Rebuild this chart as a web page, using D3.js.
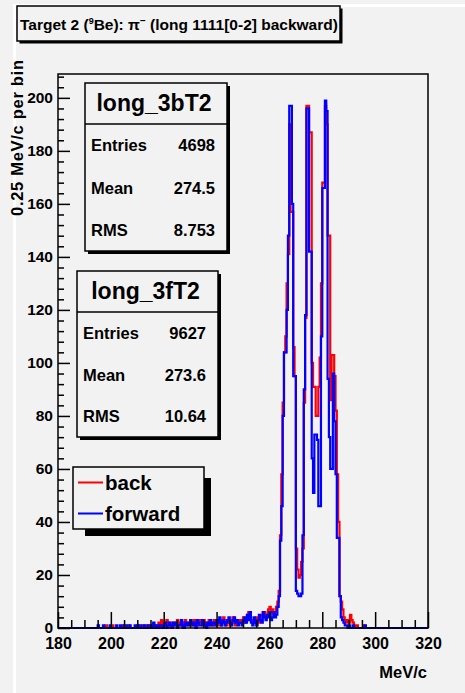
<!DOCTYPE html>
<html><head><meta charset="utf-8">
<script src="https://cdn.jsdelivr.net/npm/d3@7"></script>
<style>
html,body{margin:0;padding:0;background:#f2f2f2;}
svg{display:block;font-family:"Liberation Sans",Arial,Helvetica,sans-serif;font-weight:bold;}
</style></head>
<body>
<script>
// ---------------- data ----------------
const xDomain = [180, 320];
const yMax = 209;
const xMajorTicks = [180, 200, 220, 240, 260, 280, 300, 320];
const yMajorTicks = [0, 20, 40, 60, 80, 100, 120, 140, 160, 180, 200];
const binWidth = 0.5;      // MeV/c per drawn bin
const histStart = 194;     // lower edge of first listed bin
// forward (blue), bins from 194.0 MeV/c in steps of 0.5
const forwardCounts = [
  0,0,1,0,0,0,1,0,0,0,
  0,1,0,0,0,0,1,0,0,1,
  0,0,1,1,0,0,1,0,0,0,
  1,0,0,1,1,0,0,1,0,0,
  1,1,0,0,2,1,0,1,0,1,
  1,0,1,2,0,1,2,1,0,2,
  1,2,0,1,1,3,1,0,2,1,
  2,1,3,2,1,2,0,3,2,1,
  1,3,2,1,0,2,1,3,1,2,
  2,1,3,2,4,1,2,3,1,2,
  3,4,2,1,3,4,2,3,1,2,
  2,1,3,4,2,5,3,6,2,1,
  4,2,1,3,5,3,2,6,4,3,
  5,4,6,3,4,6,4,5,8,12,
  33,46,80,104,104,120,148,197,197,160,
  95,95,14,13,12,12,13,35,90,118,
  196,196,142,142,64,51,73,73,71,46,
  46,110,166,166,199,195,94,72,60,60,
  96,78,58,34,34,12,4,3,2,1,
  1,0,1,0,0,1,0,0,0,0,
  0,0,0,0,1,0,0,0,0,0
];
// back (red)
const backCounts = [
  0,0,0,0,0,0,0,0,1,0,
  0,0,0,1,0,0,0,0,0,0,
  0,1,0,0,0,1,0,0,0,0,
  0,0,1,0,0,0,1,0,0,1,
  0,0,1,0,1,0,0,1,2,1,
  3,1,2,1,3,2,1,0,2,1,
  2,1,3,1,2,1,0,2,3,1,
  1,2,3,1,2,3,2,1,2,3,
  2,1,3,2,1,2,3,1,2,1,
  3,2,1,3,2,1,3,4,2,1,
  2,3,1,2,4,2,1,3,2,3,
  2,3,4,2,3,5,6,5,3,2,
  3,2,4,3,2,4,5,6,6,4,
  5,7,8,6,7,5,6,8,10,14,
  35,58,85,104,110,130,141,190,157,157,
  106,95,30,22,19,20,25,30,85,117,
  197,197,187,187,100,91,91,80,80,91,
  102,130,168,168,197,190,148,148,86,103,
  103,95,82,58,40,12,10,7,4,3,
  2,3,2,5,3,2,1,0,1,0,
  0,0,0,1,0,0,0,0,0,0
];
const statsBack = {name:"long_3bT2", entries:"4698", mean:"274.5", rms:"8.753"};
const statsForward = {name:"long_3fT2", entries:"9627", mean:"273.6", rms:"10.64"};
const legendLabels = ["back", "forward"];
const seriesColors = ["#ff0000", "#0000ff"];

// ---------------- drawing ----------------
const W = 465, H = 693;
const svg = d3.select("body").append("svg").attr("width", W).attr("height", H);
svg.append("rect").attr("width", W).attr("height", H).attr("fill", "#f2f2f2");
// pad bevel highlights
svg.append("rect").attr("x", 13).attr("y", 4).attr("width", 3).attr("height", H - 4).attr("fill", "#ffffff");
svg.append("rect").attr("x", 13).attr("y", 4).attr("width", W - 13).attr("height", 3).attr("fill", "#ffffff");

const L = 58, R = 428, T = 74, B = 628;
const x = d3.scaleLinear().domain(xDomain).range([L, R]);
const y = d3.scaleLinear().domain([0, yMax]).range([B, T]);

svg.append("clipPath").attr("id", "plotclip").append("rect")
  .attr("x", L).attr("y", T - 2).attr("width", R - L).attr("height", B - T + 3);

function stepPoints(counts) {
  const pts = [[xDomain[0], 0], [histStart, 0]];
  counts.forEach((v, i) => {
    const lo = histStart + i * binWidth;
    pts.push([lo, v], [lo + binWidth, v]);
  });
  pts.push([histStart + counts.length * binWidth, 0], [xDomain[1], 0]);
  return pts;
}
const line = d3.line().x(d => x(d[0])).y(d => y(d[1]));
const g = svg.append("g").attr("clip-path", "url(#plotclip)");
[backCounts, forwardCounts].forEach((c, i) => {
  g.append("path").attr("d", line(stepPoints(c)))
    .attr("fill", "none").attr("stroke", seriesColors[i]).attr("stroke-width", 2.2)
    .attr("stroke-linejoin", "miter");
});

// frame
svg.append("rect").attr("x", L).attr("y", T).attr("width", R - L).attr("height", B - T)
  .attr("fill", "none").attr("stroke", "#000").attr("stroke-width", 1.5);

// y axis ticks (inward)
const yMinor = d3.range(0, 209, 4).filter(v => v % 20 !== 0);
const yax1 = svg.append("g").attr("transform", `translate(${L},0)`)
  .call(d3.axisRight(y).tickValues(yMajorTicks).tickSize(12).tickFormat(""));
const yax2 = svg.append("g").attr("transform", `translate(${L},0)`)
  .call(d3.axisRight(y).tickValues(yMinor).tickSize(6).tickFormat(""));
const yax3 = svg.append("g").attr("transform", `translate(${L},0)`)
  .call(d3.axisLeft(y).tickValues(yMajorTicks).tickSize(0).tickPadding(5));
// x axis ticks (inward)
const xMinor = d3.range(180, 321, 5).filter(v => v % 20 !== 0);
const xax1 = svg.append("g").attr("transform", `translate(0,${B})`)
  .call(d3.axisTop(x).tickValues(xMajorTicks).tickSize(16).tickFormat(""));
const xax2 = svg.append("g").attr("transform", `translate(0,${B})`)
  .call(d3.axisTop(x).tickValues(xMinor).tickSize(8).tickFormat(""));
const xax3 = svg.append("g").attr("transform", `translate(0,${B})`)
  .call(d3.axisBottom(x).tickValues(xMajorTicks).tickSize(0).tickPadding(10));
[yax1, yax2, yax3].concat([xax1, xax2, xax3]).forEach(a => {
  a.select(".domain").remove();
  a.selectAll("line").attr("stroke", "#000").attr("stroke-width", 1.5);
  a.selectAll("text").attr("fill", "#000").style("font-size", "15.5px")
    .style("font-family", '"Liberation Sans",Arial,sans-serif').style("font-weight", "bold");
});
xax3.selectAll("text").style("font-size", "16px");

// axis titles
svg.append("text").attr("x", 427).attr("y", 678).attr("text-anchor", "end")
  .style("font-size", "16.5px").text("MeV/c");
svg.append("text").attr("transform", "translate(23,60) rotate(-90)").attr("text-anchor", "end")
  .style("font-size", "16.5px").attr("textLength", 156).attr("lengthAdjust", "spacing")
  .text("0.25 MeV/c per bin");

// title box
function shadowBox(x0, y0, w, h, off) {
  svg.append("rect").attr("x", x0 + off).attr("y", y0 + off).attr("width", w).attr("height", h).attr("fill", "#000");
  svg.append("rect").attr("x", x0).attr("y", y0).attr("width", w).attr("height", h)
    .attr("fill", "#f2f2f2").attr("stroke", "#000").attr("stroke-width", 1.5);
}
shadowBox(17, 6, 323, 35, 2.5);
const title = svg.append("text").attr("x", 20).attr("y", 30).style("font-size", "15.5px");
title.append("tspan").text("Target 2 (");
title.append("tspan").attr("dy", -6).style("font-size", "9px").text("9");
title.append("tspan").attr("dy", 6).text("Be): π");
title.append("tspan").attr("dy", -6).style("font-size", "10px").text("−");
title.append("tspan").attr("dy", 6).text(" (long 1111[0-2] backward)");

// stats boxes
function statsBox(s, x0, y0, w, h, sep) {
  shadowBox(x0, y0, w, h, 3);
  svg.append("line").attr("x1", x0).attr("x2", x0 + w).attr("y1", sep).attr("y2", sep)
    .attr("stroke", "#000").attr("stroke-width", 1.5);
  svg.append("text").attr("x", x0 + w / 2 - 2).attr("y", y0 + (sep - y0) / 2 + 7.5)
    .attr("text-anchor", "middle").style("font-size", "23px").text(s.name);
  const rowH = (y0 + h - sep) / 3;
  [["Entries", s.entries], ["Mean", s.mean], ["RMS", s.rms]].forEach((r, i) => {
    const yy = sep + rowH * (i + 0.5) + 6;
    svg.append("text").attr("x", x0 + 6).attr("y", yy).style("font-size", "16.5px").text(r[0]);
    svg.append("text").attr("x", x0 + w - 12).attr("y", yy).attr("text-anchor", "end")
      .style("font-size", "16.5px").text(r[1]);
  });
}
statsBox(statsBack, 85, 83, 142, 168, 124);
statsBox(statsForward, 77, 271, 141, 166, 312);

// legend
svg.append("rect").attr("x", 85).attr("y", 478).attr("width", 126).attr("height", 58).attr("fill", "#000");
svg.append("rect").attr("x", 73).attr("y", 467).attr("width", 131).attr("height", 62)
  .attr("fill", "#f2f2f2").attr("stroke", "#000").attr("stroke-width", 1.5);
legendLabels.forEach((lab, i) => {
  const yy = 482.5 + i * 31;
  svg.append("line").attr("x1", 78).attr("x2", 103).attr("y1", yy).attr("y2", yy)
    .attr("stroke", seriesColors[i]).attr("stroke-width", 2);
  svg.append("text").attr("x", 105).attr("y", yy + 7).style("font-size", "20.5px").text(lab);
});
</script>
</body></html>
